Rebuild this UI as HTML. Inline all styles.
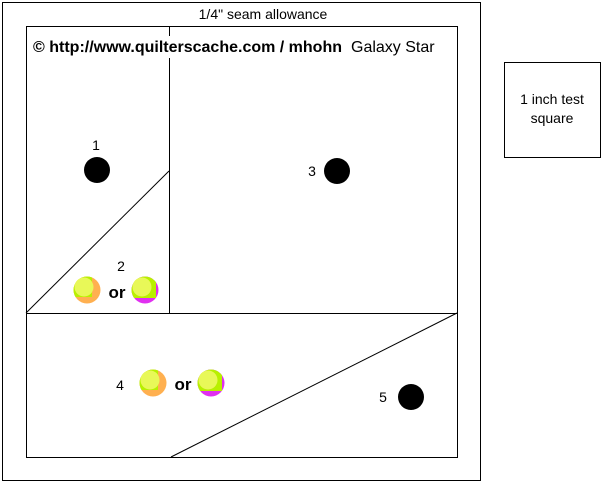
<!DOCTYPE html>
<html><head><style>body{margin:0;background:#fff}svg{display:block}text{font-family:"Liberation Sans",sans-serif}</style></head><body>
<svg width="603" height="482" viewBox="0 0 603 482">
<defs>
<clipPath id="c"><circle cx="0" cy="0" r="13.5"/></clipPath>
<g id="a"><g clip-path="url(#c)"><rect x="-14" y="-14" width="28" height="28" fill="#ffb050"/><rect x="-14" y="-14" width="19" height="21" fill="#b8f000"/></g><circle cx="-3" cy="-3" r="9.5" fill="#e8f858"/></g>
<g id="b"><g clip-path="url(#c)"><rect x="-14" y="-14" width="28" height="28" fill="#e030f0"/><rect x="-14" y="-14" width="25" height="22" fill="#b8f000"/></g><circle cx="-3" cy="-3" r="9.5" fill="#e8f858"/></g>
</defs>
<g fill="none" stroke="#000" stroke-width="1">
<rect x="2.5" y="2.5" width="478" height="478"/>
<rect x="26.5" y="26.5" width="431" height="431"/>
<line x1="169.5" y1="26" x2="169.5" y2="313"/>
<line x1="26" y1="313.5" x2="457" y2="313.5"/>
<line x1="26" y1="313" x2="169" y2="171"/>
<line x1="171" y1="457" x2="457" y2="313"/>
<rect x="504.5" y="62.5" width="96" height="95"/>
</g>
<rect x="190" y="6" width="150" height="16" fill="#fff"/>
<text x="263" y="19" font-size="14" text-anchor="middle">1/4" seam allowance</text>
<rect x="30" y="36" width="414" height="22" fill="#fff"/>
<text x="33" y="52" font-size="16" font-weight="bold">© http://www.quilterscache.com / mhohn</text>
<text x="351" y="52" font-size="16">Galaxy Star</text>
<text x="552" y="104" font-size="14" text-anchor="middle">1 inch test</text>
<text x="552" y="123" font-size="14" text-anchor="middle">square</text>
<circle cx="97" cy="170" r="13" fill="#000"/>
<circle cx="337" cy="171" r="13" fill="#000"/>
<circle cx="411" cy="397" r="13" fill="#000"/>
<text x="96" y="150" font-size="14" text-anchor="middle">1</text>
<text x="121" y="271" font-size="14" text-anchor="middle">2</text>
<text x="312" y="176" font-size="14" text-anchor="middle">3</text>
<text x="120" y="390" font-size="14" text-anchor="middle">4</text>
<text x="383" y="402" font-size="14" text-anchor="middle">5</text>
<use href="#a" x="87" y="290"/>
<use href="#b" x="145" y="290"/>
<use href="#a" x="153" y="383"/>
<use href="#b" x="211" y="383"/>
<text x="117" y="298" font-size="17" font-weight="bold" text-anchor="middle">or</text>
<text x="183" y="390" font-size="17" font-weight="bold" text-anchor="middle">or</text>
</svg>
</body></html>
